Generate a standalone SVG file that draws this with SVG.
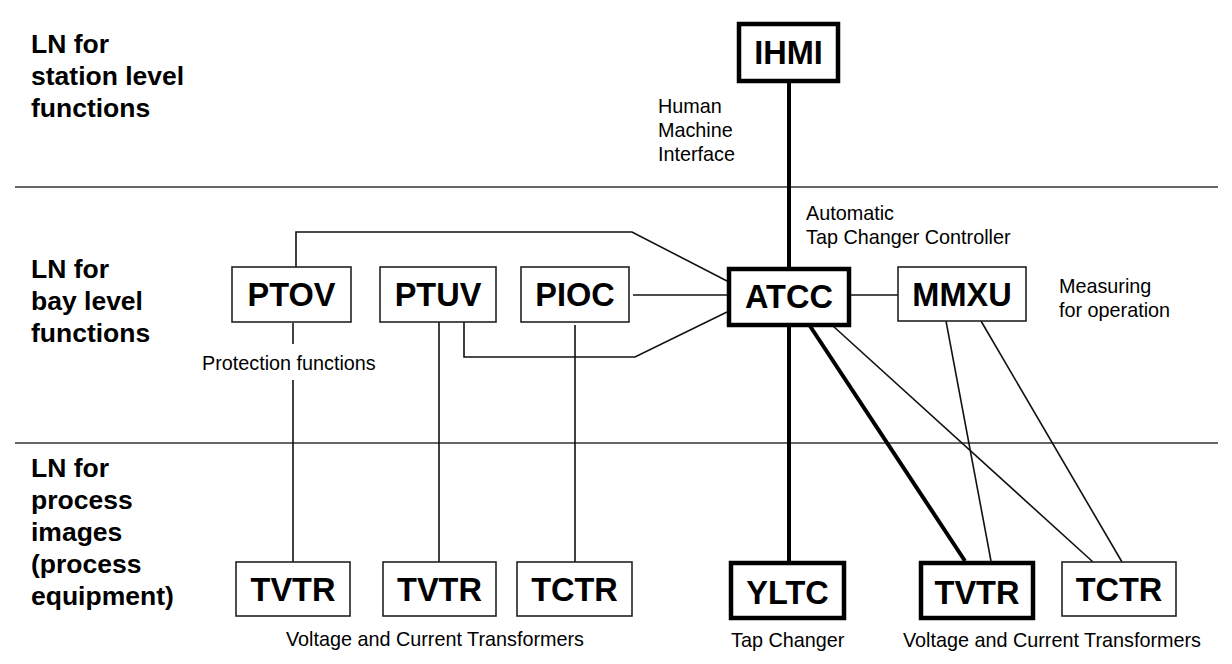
<svg xmlns="http://www.w3.org/2000/svg" width="1232" height="664" viewBox="0 0 1232 664">
<style>
.bg{fill:#fff}
.sep{stroke:#333;stroke-width:1.6;fill:none}
.lvl{font-family:"Liberation Sans",Arial,sans-serif;font-weight:bold;font-size:26.5px;fill:#000}
.lbl{font-family:"Liberation Sans",Arial,sans-serif;font-size:19.8px;fill:#000}
.nt{font-family:"Liberation Sans",Arial,sans-serif;font-weight:bold;font-size:32.5px;fill:#000;text-anchor:middle}
.thin{fill:#fff;stroke:#222;stroke-width:1.6}
.thick{fill:#fff;stroke:#000;stroke-width:4.5}
.c{stroke:#111;stroke-width:1.6;fill:none}
.ct{stroke:#000;stroke-width:4;fill:none}
</style>
<rect class="bg" x="0" y="0" width="1232" height="664"/>
<g id="separators">
<line class="sep" x1="15" y1="187" x2="1218" y2="187"/>
<line class="sep" x1="15" y1="443" x2="1218" y2="443"/>
</g>
<g id="level-labels">
<text class="lvl" x="31" y="53">LN for</text>
<text class="lvl" x="31" y="85">station level</text>
<text class="lvl" x="31" y="117">functions</text>
<text class="lvl" x="31" y="278">LN for</text>
<text class="lvl" x="31" y="310">bay level</text>
<text class="lvl" x="31" y="342">functions</text>
<text class="lvl" x="31" y="477">LN for</text>
<text class="lvl" x="31" y="509">process</text>
<text class="lvl" x="31" y="541">images</text>
<text class="lvl" x="31" y="573">(process</text>
<text class="lvl" x="31" y="605">equipment)</text>
</g>
<g id="connectors">
<line class="ct" x1="789" y1="82" x2="789" y2="267"/>
<line class="ct" x1="789" y1="326" x2="789" y2="561"/>
<line class="ct" x1="810" y1="326" x2="965" y2="561"/>
<line class="c" x1="833" y1="326" x2="1093" y2="562"/>
<line class="c" x1="946" y1="321" x2="991" y2="561"/>
<line class="c" x1="981" y1="321" x2="1122" y2="562"/>
<line class="c" x1="851" y1="295" x2="898" y2="295"/>
<line class="c" x1="633" y1="295" x2="727" y2="295"/>
<polyline class="c" points="296,267 296,232 632,232 727,281"/>
<polyline class="c" points="464,322 464,357 635,357 727,312"/>
<line class="c" x1="293" y1="323" x2="293" y2="344"/>
<line class="c" x1="293" y1="380" x2="293" y2="562"/>
<line class="c" x1="439" y1="322" x2="439" y2="562"/>
<line class="c" x1="575" y1="325" x2="575" y2="562"/>
</g>
<g id="IHMI"><rect class="thick" x="739" y="24" width="99" height="57"/><text class="nt" x="788.5" y="64">IHMI</text></g>
<g id="ATCC"><rect class="thick" x="729" y="269" width="120" height="56"/><text class="nt" x="789" y="308">ATCC</text></g>
<g id="MMXU"><rect class="thin" x="898" y="267" width="128" height="54"/><text class="nt" x="962" y="306">MMXU</text></g>
<g id="PTOV"><rect class="thin" x="232" y="267" width="119" height="55"/><text class="nt" x="291.5" y="306">PTOV</text></g>
<g id="PTUV"><rect class="thin" x="380" y="267" width="116" height="55"/><text class="nt" x="438" y="306">PTUV</text></g>
<g id="PIOC"><rect class="thin" x="521" y="267" width="108" height="55"/><text class="nt" x="575" y="306">PIOC</text></g>
<g id="TVTR1"><rect class="thin" x="236" y="562" width="114" height="54"/><text class="nt" x="293" y="601">TVTR</text></g>
<g id="TVTR2"><rect class="thin" x="383" y="562" width="113" height="54"/><text class="nt" x="439.5" y="601">TVTR</text></g>
<g id="TCTR1"><rect class="thin" x="517" y="562" width="115" height="54"/><text class="nt" x="574.5" y="601">TCTR</text></g>
<g id="YLTC"><rect class="thick" x="731" y="563" width="113" height="55"/><text class="nt" x="787.5" y="604">YLTC</text></g>
<g id="TVTR3"><rect class="thick" x="921" y="563" width="112" height="55"/><text class="nt" x="977" y="604">TVTR</text></g>
<g id="TCTR2"><rect class="thin" x="1062" y="562" width="114" height="54"/><text class="nt" x="1119" y="601">TCTR</text></g>
<g id="annotations">
<text class="lbl" x="658" y="113">Human</text>
<text class="lbl" x="658" y="137">Machine</text>
<text class="lbl" x="658" y="161">Interface</text>
<text class="lbl" x="806" y="220">Automatic</text>
<text class="lbl" x="806" y="244">Tap Changer Controller</text>
<text class="lbl" x="1059" y="293">Measuring</text>
<text class="lbl" x="1059" y="317">for operation</text>
<text class="lbl" x="202" y="370">Protection functions</text>
<text class="lbl" x="286" y="646">Voltage and Current Transformers</text>
<text class="lbl" x="731" y="647">Tap Changer</text>
<text class="lbl" x="903" y="647">Voltage and Current Transformers</text>
</g>
</svg>
